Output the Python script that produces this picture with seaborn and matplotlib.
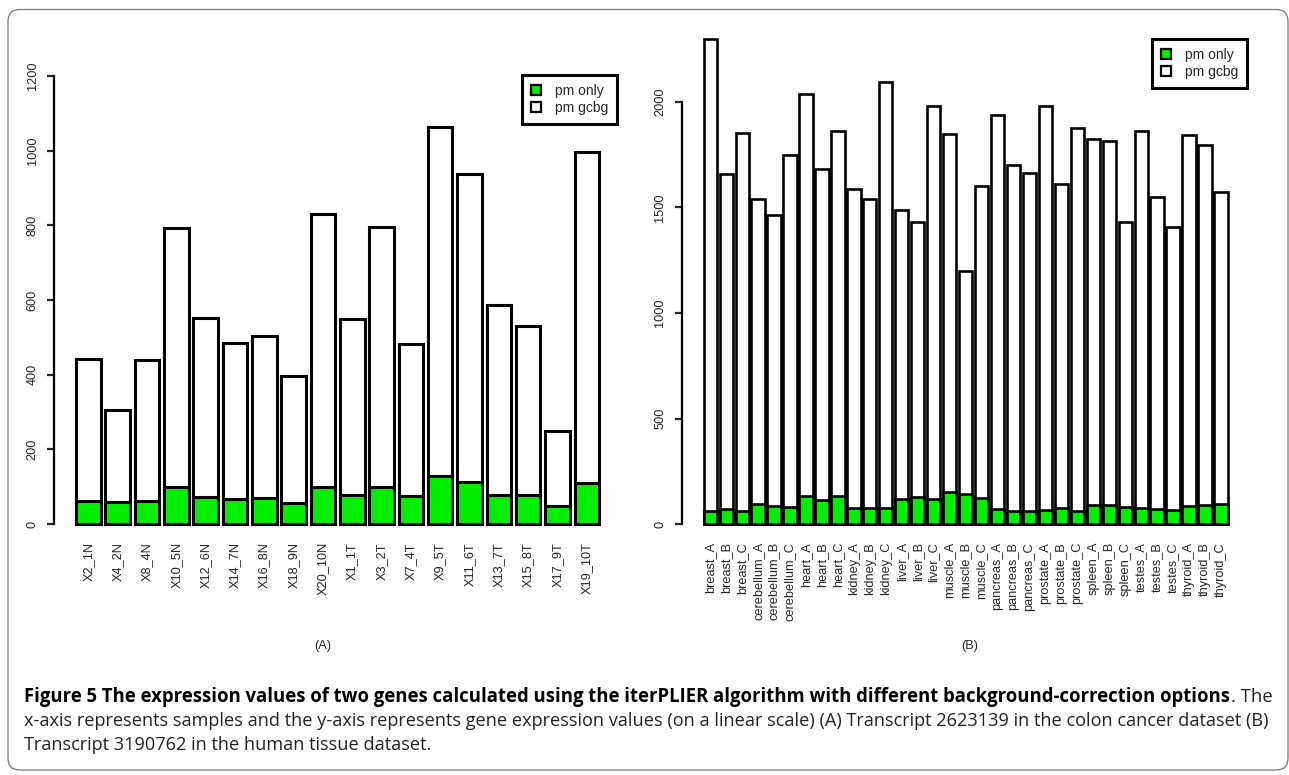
import matplotlib
matplotlib.use("Agg")
import matplotlib.pyplot as plt
import matplotlib.transforms as mtransforms
from matplotlib.patches import Patch, FancyBboxPatch
import seaborn as sns

# ---------------- data ----------------
colon_samples = ["X2_1N", "X4_2N", "X8_4N", "X10_5N", "X12_6N", "X14_7N", "X16_8N",
                 "X18_9N", "X20_10N", "X1_1T", "X3_2T", "X7_4T", "X9_5T", "X11_6T",
                 "X13_7T", "X15_8T", "X17_9T", "X19_10T"]
colon_gcbg = [443, 305, 438, 792, 553, 486, 503, 397, 830, 550, 795, 483, 1063, 938,
              587, 531, 249, 997]
colon_pm = [62, 60, 62, 98, 72, 67, 70, 56, 100, 78, 99, 74, 129, 112, 79, 79, 49, 111]

tissue_samples = ["breast_A", "breast_B", "breast_C", "cerebellum_A", "cerebellum_B",
                  "cerebellum_C", "heart_A", "heart_B", "heart_C", "kidney_A", "kidney_B",
                  "kidney_C", "liver_A", "liver_B", "liver_C", "muscle_A", "muscle_B",
                  "muscle_C", "pancreas_A", "pancreas_B", "pancreas_C", "prostate_A",
                  "prostate_B", "prostate_C", "spleen_A", "spleen_B", "spleen_C",
                  "testes_A", "testes_B", "testes_C", "thyroid_A", "thyroid_B", "thyroid_C"]
tissue_gcbg = [2297, 1660, 1855, 1542, 1464, 1749, 2038, 1682, 1864, 1586, 1542, 2096,
               1490, 1433, 1981, 1848, 1199, 1602, 1937, 1701, 1662, 1981, 1611, 1878,
               1825, 1814, 1433, 1864, 1548, 1406, 1844, 1796, 1575]
tissue_pm = [60, 69, 63, 93, 83, 79, 132, 112, 132, 74, 74, 77, 119, 126, 119, 154, 142,
             123, 71, 61, 60, 64, 74, 60, 90, 88, 79, 75, 69, 66, 86, 90, 96]

legend_labels = ["pm only", "pm gcbg"]
panel_labels = ["(A)", "(B)"]
caption_bold = ("Figure 5 The expression values of two genes calculated using the "
                "iterPLIER algorithm with different background-correction options")
caption_line1_rest = ". The"
caption_line2 = ("x-axis represents samples and the y-axis represents gene expression values "
                 "(on a linear scale) (A) Transcript 2623139 in the colon cancer dataset (B)")
caption_line3 = "Transcript 3190762 in the human tissue dataset."

GREEN = "#00f000"
W, H = 1289, 775

sns.set_style("white")
plt.rcParams["font.family"] = ["Liberation Sans", "DejaVu Sans"]

fig = plt.figure(figsize=(W / 100, H / 100), dpi=100)
fig.patch.set_facecolor("white")
px = mtransforms.Affine2D().scale(1 / W, 1 / H) + fig.transFigure


def ax_rect(left, right, top, bottom):
    return [left / W, (H - bottom) / H, (right - left) / W, (bottom - top) / H]


def draw_panel(ax, cats, totals, pm, ymax, yticks, lw, xlo, xhi):
    sns.barplot(x=cats, y=totals, color="white", edgecolor="black", linewidth=lw,
                width=0.833, saturation=1, errorbar=None, ax=ax)
    sns.barplot(x=cats, y=pm, color=GREEN, edgecolor="black", linewidth=lw,
                width=0.833, saturation=1, errorbar=None, ax=ax)
    for p in ax.patches:
        p.set_clip_on(False)
    ax.set_xlim(xlo, xhi)
    ax.set_ylim(0, ymax)
    ax.set_yticks(yticks)
    ax.set_yticklabels([str(v) for v in yticks], rotation=90, va="center")
    ax.tick_params(axis="y", direction="out", length=5, width=1.6, pad=6,
                   labelsize=9.2, left=True)
    ax.tick_params(axis="x", length=0, pad=13, labelsize=9.2, labelrotation=90)
    for s in ["top", "right", "bottom"]:
        ax.spines[s].set_visible(False)
    ax.spines["left"].set_bounds(yticks[0], yticks[-1])
    ax.spines["left"].set_linewidth(1.6)
    ax.spines["left"].set_color("black")
    ax.set_xlabel("")
    ax.set_ylabel("")
    ax.set_facecolor("none")
    ax.grid(False)


# left panel: spine at x=54, y 0 -> 524, 1200 -> 76
pitch_l = 29.33
xlo_l, xhi_l = -1.17, 17.6
axL = fig.add_axes(ax_rect(54, 54 + (xhi_l - xlo_l) * pitch_l, 76, 524))
draw_panel(axL, colon_samples, colon_gcbg, colon_pm, 1200,
           [0, 200, 400, 600, 800, 1000, 1200], 2.2, xlo_l, xhi_l)

# right panel: spine at x=681.5, y 0 -> 524, 2000 -> 102
pitch_r = 15.96
xlo_r, xhi_r = -1.80, 32.6
scale_r = (524 - 102) / 2000
axR = fig.add_axes(ax_rect(681.5, 681.5 + (xhi_r - xlo_r) * pitch_r, 524 - 2300 * scale_r, 524))
draw_panel(axR, tissue_samples, tissue_gcbg, tissue_pm, 2300,
           [0, 500, 1000, 1500, 2000], 1.9, xlo_r, xhi_r)

handles = [Patch(facecolor=GREEN, edgecolor="black", linewidth=1.6),
           Patch(facecolor="white", edgecolor="black", linewidth=1.6)]
for ax, (lx, ly) in [(axL, (522, 75)), (axR, (1152, 39))]:
    leg = fig.legend(handles, legend_labels, loc="upper left",
                     bbox_to_anchor=(lx / W, 1 - ly / H), bbox_transform=fig.transFigure,
                     fontsize=10, frameon=True, fancybox=False, framealpha=1,
                     edgecolor="black", handlelength=0.7, handleheight=0.7,
                     handletextpad=1.0, labelspacing=0.22, borderpad=0.65,
                     borderaxespad=0)
    leg.get_frame().set_linewidth(2.2)

fig.text(323, H - 646, panel_labels[0], transform=px, ha="center", va="center", fontsize=9.2)
fig.text(970, H - 646, panel_labels[1], transform=px, ha="center", va="center", fontsize=9.2)

# caption
cap_font = ["Open Sans", "DejaVu Sans"]
renderer = fig.canvas.get_renderer()
x0 = 24
t_b = fig.text(x0, H - 697, caption_bold, transform=px, fontsize=12, fontweight="bold",
               family=cap_font, va="center", ha="left", color="black")
t_r = fig.text(x0, H - 697, caption_line1_rest, transform=px, fontsize=12,
               family=cap_font, va="center", ha="left", color="#222222")
wb = t_b.get_window_extent(renderer).width
wr = t_r.get_window_extent(renderer).width
s1 = (1266 - x0) / (wb + wr)
t_b.set_fontsize(12 * s1)
t_r.set_fontsize(12 * s1)
wb2 = t_b.get_window_extent(renderer).width
t_r.set_x(x0 + wb2 + 1)

t2 = fig.text(x0, H - 721, caption_line2, transform=px, fontsize=12, family=cap_font,
              va="center", ha="left", color="#222222")
w2 = t2.get_window_extent(renderer).width
s2 = (1264 - x0) / w2
t2.set_fontsize(12 * s2)
fig.text(x0, H - 745, caption_line3, transform=px, fontsize=12 * s2, family=cap_font,
         va="center", ha="left", color="#222222")

# rounded frame
frame = FancyBboxPatch((8, H - 770), 1280, 770 - 9.5, boxstyle="round,pad=0,rounding_size=12",
                       transform=px, facecolor="none", edgecolor="#777777", linewidth=0.9)
fig.patches.append(frame)

fig.savefig("out.png", dpi=100, facecolor="white")
